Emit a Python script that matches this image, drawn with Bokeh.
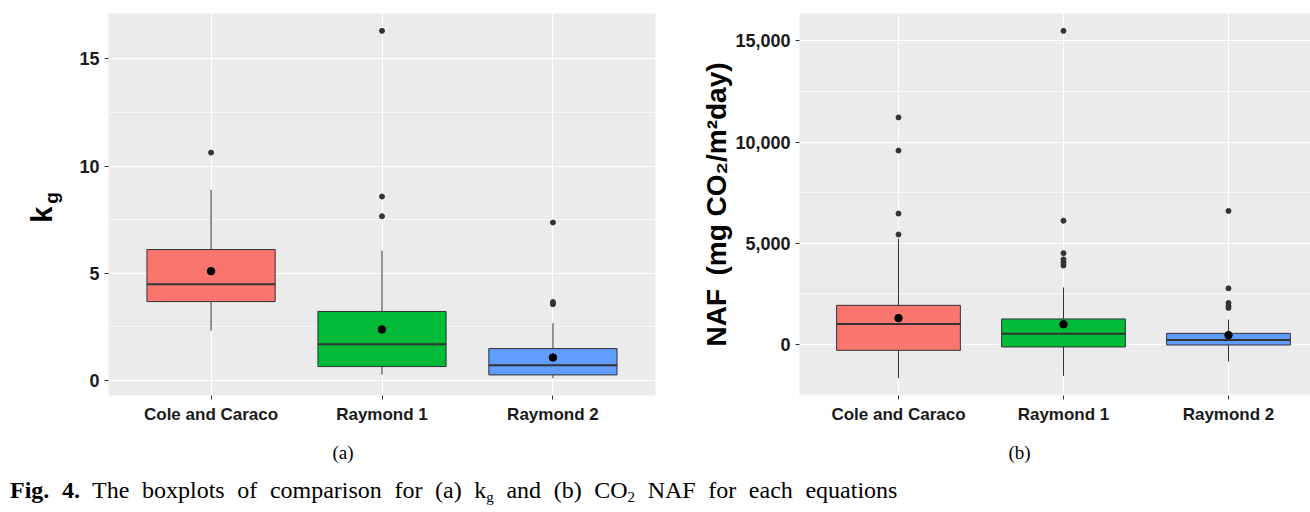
from bokeh.plotting import figure
from bokeh.models import (Range1d, FixedTicker, Div, NumeralTickFormatter,
                          LinearAxis, Title)
from bokeh.layouts import column, row
from bokeh.embed import file_html
from bokeh.resources import INLINE

categories = ["Cole and Caraco", "Raymond 1", "Raymond 2"]
colors = ["#F8766D", "#00BA38", "#619CFF"]

# (a) k_g
kg_q1 = [3.68, 0.65, 0.26]
kg_median = [4.49, 1.69, 0.71]
kg_q3 = [6.11, 3.22, 1.49]
kg_lower = [2.33, 0.28, 0.11]
kg_upper = [8.89, 6.06, 2.67]
kg_mean = [5.10, 2.38, 1.07]
kg_outliers = [[10.63], [16.31, 8.58, 7.66], [7.37, 3.66, 3.56]]
kg_ticks = [0, 5, 10, 15]
kg_minor = [2.5, 7.5, 12.5]

# (b) CO2 NAF
naf_q1 = [-292, -126, -29]
naf_median = [1007, 525, 220]
naf_q3 = [1931, 1258, 545]
naf_lower = [-1668, -1556, -850]
naf_upper = [5224, 2815, 1225]
naf_mean = [1299, 992, 457]
naf_outliers = [[11222, 9582, 6469, 5433],
                [15501, 6114, 4509, 4200, 4050, 3900],
                [6600, 2772, 2050, 1900, 1800]]
naf_ticks = [0, 5000, 10000, 15000]
naf_minor = [-2500, 2500, 7500, 12500]

BOX_W = 0.75
DARK = "#333333"
ROW_H = 478


def panel(q1, med, q3, lo, hi, mean, outl, major, minor, w, h,
          bl, br, bt, bb, x_end, fmt=None):
    pos = [i + 1 for i in range(len(categories))]
    allv = lo + hi + [v for o in outl for v in o]
    vmin, vmax = min(allv), max(allv)
    pad = 0.05 * (vmax - vmin)
    p = figure(width=w, height=h, output_backend="svg", toolbar_location=None,
               x_range=Range1d(0.4, x_end), y_range=Range1d(vmin - pad, vmax + pad),
               min_border_left=bl, min_border_right=br, min_border_top=bt,
               min_border_bottom=bb)
    p.background_fill_color = "#EBEBEB"
    p.border_fill_color = "white"
    p.outline_line_color = None

    yt = FixedTicker(ticks=major, minor_ticks=minor)
    xt = FixedTicker(ticks=pos)
    p.yaxis.ticker = yt
    p.xaxis.ticker = xt
    p.ygrid.ticker = yt
    p.xgrid.ticker = xt
    p.ygrid.grid_line_color = "white"
    p.ygrid.grid_line_width = 1.1
    p.ygrid.minor_grid_line_color = "white"
    p.ygrid.minor_grid_line_width = 0.6
    p.xgrid.grid_line_color = "white"
    p.xgrid.grid_line_width = 1.1

    for ax in (p.xaxis, p.yaxis):
        ax.axis_line_color = None
        ax.major_tick_line_color = DARK
        ax.major_tick_in = 0
        ax.major_tick_out = 4
        ax.minor_tick_line_color = None
        ax.major_label_text_font = "Liberation Sans"
        ax.major_label_text_font_style = "bold"
        ax.major_label_text_color = "#1a1a1a"
        ax.axis_label_text_font = "Liberation Sans"
        ax.axis_label_text_font_style = "bold"
        ax.axis_label_text_color = "black"
    p.yaxis.major_label_text_font_size = "18px"
    p.yaxis.major_label_standoff = 5
    p.xaxis.major_label_text_font_size = "17px"
    p.xaxis.major_label_standoff = 5
    p.xaxis.major_label_overrides = {pp: c for pp, c in zip(pos, categories)}
    if fmt is not None:
        p.yaxis.formatter = fmt

    # whiskers
    p.segment(x0=pos, x1=pos, y0=q3, y1=hi, line_color=DARK, line_width=1)
    p.segment(x0=pos, x1=pos, y0=q1, y1=lo, line_color=DARK, line_width=1)
    # boxes
    p.vbar(x=pos, width=BOX_W, bottom=q1, top=q3, fill_color=colors,
           line_color=DARK, line_width=1)
    # medians
    p.segment(x0=[x - BOX_W / 2 for x in pos], x1=[x + BOX_W / 2 for x in pos],
              y0=med, y1=med, line_color=DARK, line_width=2)
    # outliers
    ox = [pos[i] for i, o in enumerate(outl) for _ in o]
    oy = [v for o in outl for v in o]
    p.scatter(x=ox, y=oy, size=5, color=DARK)
    # means
    p.scatter(x=pos, y=mean, size=7.5, color="black")
    return p


pa = panel(kg_q1, kg_median, kg_q3, kg_lower, kg_upper, kg_mean, kg_outliers,
           kg_ticks, kg_minor, 690, ROW_H, 108, 35, 13, ROW_H - 395, 3.6)
pb = panel(naf_q1, naf_median, naf_q3, naf_lower, naf_upper, naf_mean, naf_outliers,
           naf_ticks, naf_minor, 620, ROW_H, 109, 0, 10, ROW_H - 398, 3.497,
           fmt=NumeralTickFormatter(format="0,0"))

# y axis title of (a): k with subscript g
pa.yaxis.axis_label = "\u2002\u2009g"
pa.yaxis.axis_label_text_font_size = "19px"
pa.yaxis.axis_label_standoff = 14
kax = LinearAxis(ticker=FixedTicker(ticks=[]), axis_label="k\u2002\u2009",
                 axis_line_color=None, major_tick_line_color=None,
                 minor_tick_line_color=None, major_label_text_font_size="0px",
                 axis_label_standoff=-19, axis_label_text_font="Liberation Sans",
                 axis_label_text_font_style="bold", axis_label_text_font_size="29px",
                 axis_label_text_color="black")
pa.add_layout(kax, "left")

# y axis title of (b)
pb.yaxis.axis_label = "NAF \u2009(mg CO\u2082/m\u00b2day)"
pb.yaxis.axis_label_text_font_size = "28px"
pb.yaxis.axis_label_standoff = 0

# panel captions
pa.add_layout(Title(text="(a)", align="left", offset=224, standoff=26,
                    vertical_align="bottom", text_font="Liberation Serif",
                    text_font_style="normal", text_font_size="19px",
                    text_color="black"), "below")
pb.add_layout(Title(text="(b)", align="left", offset=209, standoff=26,
                    vertical_align="bottom", text_font="Liberation Serif",
                    text_font_style="normal", text_font_size="19px",
                    text_color="black"), "below")

caption = Div(
    text=('<div style="font-family:\'Liberation Serif\',serif;font-size:24px;'
          'line-height:24px;word-spacing:6.6px;white-space:nowrap;color:#000;'
          'margin-top:-5px;margin-left:5px;"><b>Fig. 4.</b> The boxplots of comparison for '
          '(a) k<span style="font-size:15px;vertical-align:-4px">g</span> and (b) '
          'CO<span style="font-size:15px;vertical-align:-4px">2</span> NAF for each equations</div>'),
    width=1310, height=512 - ROW_H)

layout = column(row(pa, pb), caption)
open("out.html", "w").write(file_html(layout, INLINE))
